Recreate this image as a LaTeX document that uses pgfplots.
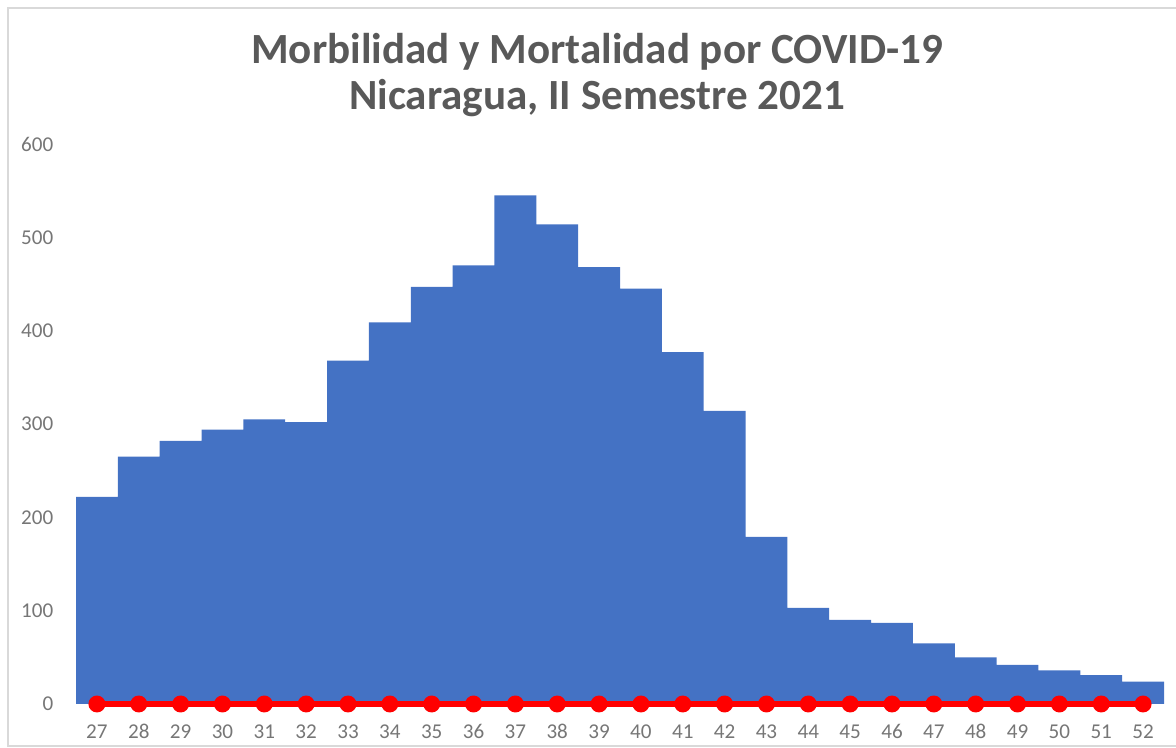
\documentclass[border=0pt]{standalone}
\usepackage{fontspec}
\setmainfont{Carlito}
\usepackage{pgfplots}
\pgfplotsset{compat=1.18}
\definecolor{barblue}{RGB}{68,114,196}
\definecolor{linered}{RGB}{255,0,0}
\definecolor{titlegray}{RGB}{89,89,89}
\definecolor{tickgray}{RGB}{118,118,118}
\definecolor{framegray}{RGB}{217,217,217}
\begin{document}
\begin{tikzpicture}
\useasboundingbox (0,0) rectangle (23.52,14.96);
% chart frame
\draw[framegray, line width=1.2pt] (23.6,14.8) -- (0.16,14.8) -- (0.16,0.04) -- (23.6,0.04);
\node[font=\fontsize{24.5}{28}\selectfont\bfseries, text=titlegray] at (11.94,13.93) {Morbilidad y Mortalidad por COVID-19};
\node[font=\fontsize{24.5}{28}\selectfont\bfseries, text=titlegray] at (11.94,12.99) {Nicaragua, II Semestre 2021};
\begin{axis}[
  at={(1.52cm,0.88cm)}, anchor=south west,
  scale only axis, width=21.76cm, height=11.2cm,
  xmin=26.5, xmax=52.5, ymin=0, ymax=600,
  xtick={27,...,52}, ytick={0,100,...,600},
  axis line style={draw=none}, tick style={draw=none},
  clip=false,
  /pgf/number format/assume math mode=true,
  ticklabel style={font=\fontsize{12}{14}\selectfont, text=tickgray},
  xticklabel style={text height=1.6ex, text depth=0.2ex, yshift=-0.3cm},
  yticklabel style={xshift=-0.33cm},
]
\addplot[ybar, bar width=1, fill=barblue, draw=none] coordinates {
  (27,222) (28,265) (29,282) (30,294) (31,305) (32,302) (33,368) (34,409)
  (35,447) (36,470) (37,545) (38,514) (39,468) (40,445) (41,377) (42,314)
  (43,179) (44,103) (45,90) (46,87) (47,65) (48,50) (49,42) (50,36)
  (51,31) (52,24)
};
\addplot[linered, line width=3pt, mark=*, mark size=3.3pt, mark options={fill=linered, draw=linered}] coordinates {
  (27,0) (28,0) (29,0) (30,0) (31,0) (32,0) (33,0) (34,0)
  (35,0) (36,0) (37,0) (38,0) (39,0) (40,0) (41,0) (42,0)
  (43,0) (44,0) (45,0) (46,0) (47,0) (48,0) (49,0) (50,0)
  (51,0) (52,0)
};
\end{axis}
\end{tikzpicture}
\end{document}
